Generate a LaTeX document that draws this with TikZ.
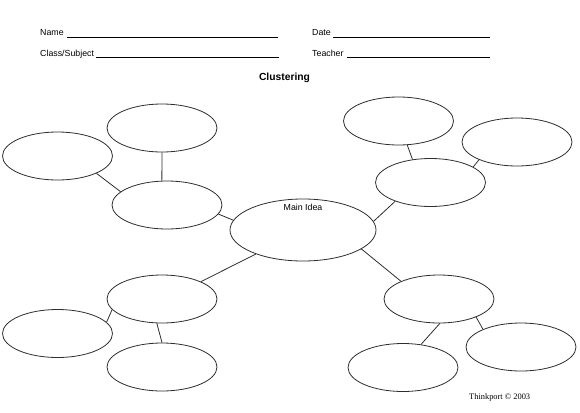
\documentclass[tikz,border=0pt]{standalone}
\usepackage{fontspec}
\setmainfont{Liberation Sans}
\newfontfamily\creditfont{Liberation Serif}
\usetikzlibrary{shapes.geometric,positioning}
\definecolor{inkline}{HTML}{2E2E2E}

\begin{document}
\begin{tikzpicture}[x=1pt,y=-1pt,
    bubble/.style={ellipse,draw=inkline,line width=0.8pt,inner sep=0pt,
      minimum width=110pt,minimum height=48pt},
    hub/.style={bubble,minimum width=146pt,minimum height=62pt},
    field/.style={inner sep=0pt,font=\fontsize{8.8pt}{10pt}\selectfont},
    blank/.style={line width=0.7pt,black},
    link/.style={inkline,line width=0.8pt}]

  \useasboundingbox (0,0) rectangle (580,412);

  % header
  \node[field,anchor=base west] (name) at (40,36) {Name};
  \node[field,anchor=base west] (class) at (40,56.5) {Class/Subject};
  \node[field,anchor=base west] (date) at (312,36) {Date};
  \node[field,anchor=base west] (teacher) at (312,56.5) {Teacher};
  \coordinate (nameend) at (278,37);
  \coordinate (classend) at (279,57.5);
  \coordinate (dateend) at (490,37);
  \coordinate (teacherend) at (490,57.5);
  \draw[blank] ([xshift=3pt,yshift=-1pt]name.base east) -- (nameend);
  \draw[blank] ([xshift=2pt,yshift=-1pt]class.base east) -- (classend);
  \draw[blank] ([xshift=2pt,yshift=-1pt]date.base east) -- (dateend);
  \draw[blank] ([xshift=3pt,yshift=-1pt]teacher.base east) -- (teacherend);
  \node[inner sep=0pt,anchor=base,font=\fontsize{10.3pt}{12pt}\selectfont\bfseries]
    (title) at (284.5,80) {Clustering};

  % main idea
  \node[hub] (main) at (303,230) {};
  \node[field,anchor=north,yshift=-5.5pt] (mainlbl) at (main.north) {Main Idea};

  % upper left
  \node[bubble] (ulmid) at (167,205) {};
  \node[bubble] (ultop) at (162,128) {};
  \node[bubble] (ulside) at (57.5,156) {};
  \draw[link] (main.172) -- (ulmid.-10);
  \draw[link] (ulmid.102) -- (ultop.-90);
  \draw[link] (ulmid.164) -- (ulside.-24);

  % upper right
  \node[bubble] (urmid) at (430.5,182.5) {};
  \node[bubble] (urtop) at (398.5,121) {};
  \node[bubble] (urside) at (517,142) {};
  \draw[link] (main.7) -- (urmid.208);
  \draw[link] (urmid.128) -- (urtop.-70);
  \draw[link] (urmid.20) -- (urside.205);

  % lower left
  \node[bubble] (llmid) at (162,299) {};
  \node[bubble] (llside) at (57.5,333.5) {};
  \node[bubble] (llbot) at (162,367) {};
  \draw[link] (main.207) -- (llmid.24);
  \draw[link] (llmid.192) -- (llside.13);
  \draw[link] (llmid.258) -- (llbot.90);

  % lower right
  \node[bubble] (lrmid) at (439,299) {};
  \node[bubble] (lrbot) at (403,367.5) {};
  \node[bubble] (lrside) at (521,347) {};
  \draw[link] (main.-18) -- (lrmid.155);
  \draw[link] (lrmid.-88) -- (lrbot.52);
  \draw[link] (lrmid.-26) -- (lrside.155);

  \node[inner sep=0pt,anchor=base west,font=\creditfont\fontsize{8.4pt}{10pt}\selectfont]
    (credit) at (469,399) {Thinkport \textcopyright{} 2003};
\end{tikzpicture}
\end{document}
